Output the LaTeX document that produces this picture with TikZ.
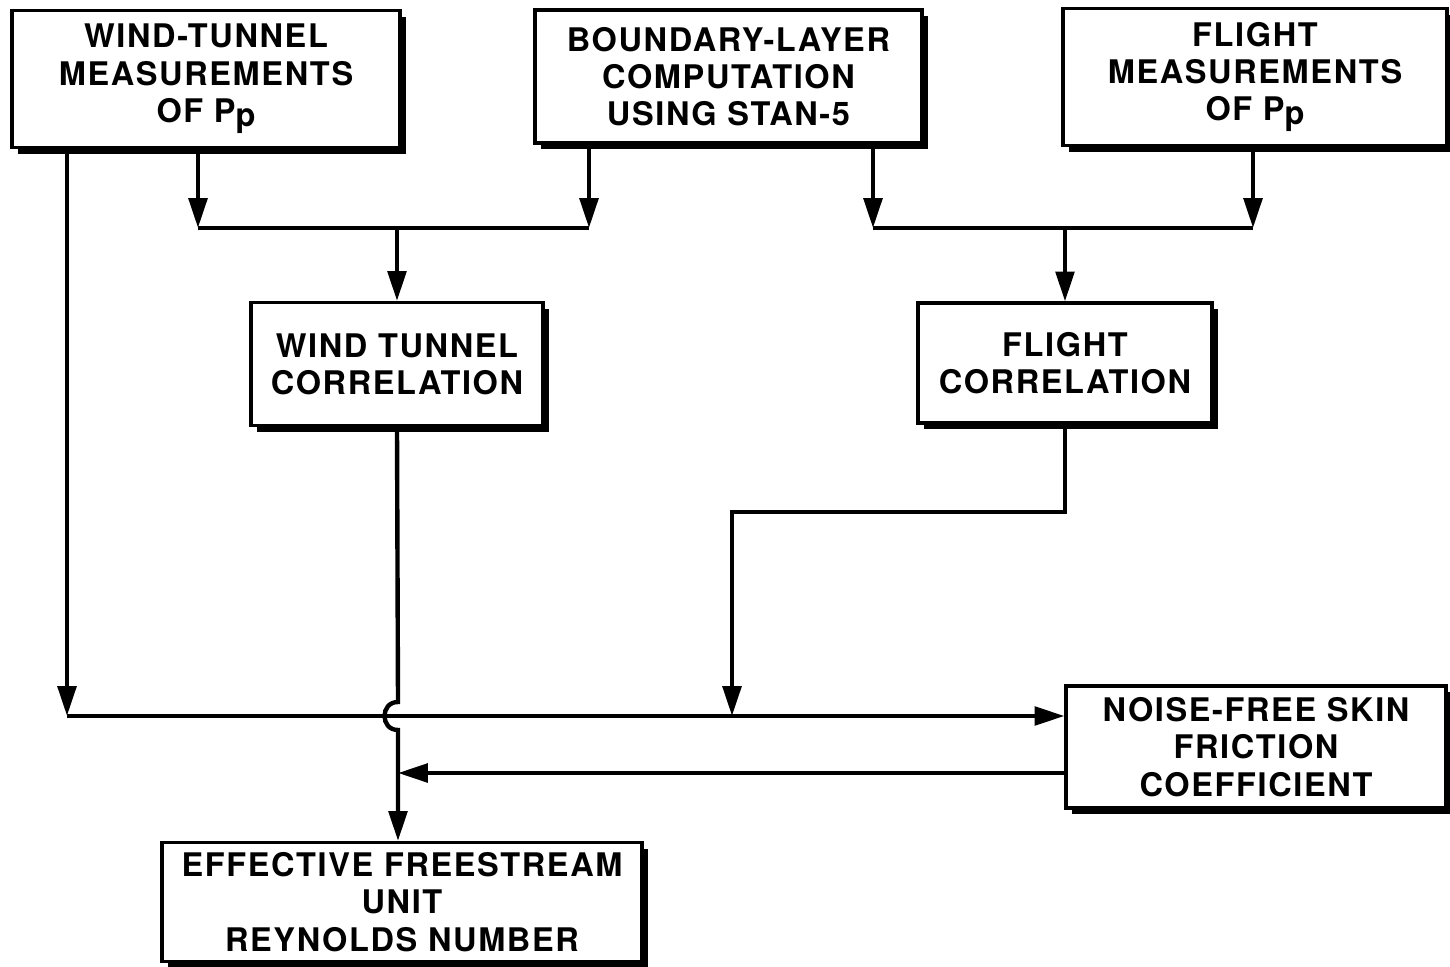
\documentclass[tikz,border=0pt]{standalone}
\usepackage{fontspec}
\newfontfamily\boxfont{TeX Gyre Heros}[LetterSpace=5]
\usetikzlibrary{positioning,arrows.meta,calc,shadows}
\tikzset{
  stepbox/.style={draw=black, fill=white, line width=1.8pt, align=center,
                  inner sep=0pt, font=\boxfont\bfseries\fontsize{18.5}{21.2}\selectfont,
                  drop shadow={shadow xshift=3.6pt, shadow yshift=-3.6pt,
                               fill=black, opacity=1}},
  link/.style={line width=2.5pt, draw=black},
  flow/.style={link, -{Triangle[length=17pt, width=10.5pt]}},
}

\begin{document}
\begin{tikzpicture}
\useasboundingbox (0,0) rectangle (29,-19.34);

% ========== INPUT BOXES ==========
\node[stepbox, minimum width=7.76cm, minimum height=2.74cm] (wtm) at (4.12,-1.58)
  {WIND-TUNNEL\\MEASUREMENTS\\OF P\raisebox{-0.25ex}{p}};
\node[stepbox, minimum width=7.74cm, minimum height=2.66cm] (blc) at (14.57,-1.53)
  {BOUNDARY-LAYER\\COMPUTATION\\USING STAN-5};
\node[stepbox, minimum width=7.68cm, minimum height=2.74cm] (flm) at (25.1,-1.54)
  {FLIGHT\\MEASUREMENTS\\OF P\raisebox{-0.25ex}{p}};

% ========== CORRELATIONS ==========
\node[stepbox, minimum width=5.84cm, minimum height=2.46cm] (wtc) at (7.94,-7.28)
  {WIND TUNNEL\\CORRELATION};
\node[stepbox, minimum width=5.88cm, minimum height=2.40cm] (flc) at (21.3,-7.26)
  {FLIGHT\\CORRELATION};

% ========== RESULTS ==========
\node[stepbox, minimum width=7.6cm, minimum height=2.44cm] (nfs) at (25.12,-14.94)
  {NOISE-FREE SKIN\\FRICTION\\COEFFICIENT};
\node[stepbox, minimum width=9.6cm, minimum height=2.38cm] (efr) at (8.04,-18.04)
  {EFFECTIVE FREESTREAM\\UNIT\\REYNOLDS NUMBER};

% junctions
\coordinate (m1) at (3.96,-4.56);
\coordinate (m2) at (11.78,-4.56);
\coordinate (m3) at (17.46,-4.56);
\coordinate (m4) at (25.06,-4.56);
\coordinate (jL) at (1.34,-14.32);
\coordinate (fk) at (14.64,-10.24);
\coordinate (fb) at (14.64,-14.32);
\coordinate (ret) at (7.96,-15.46);
\coordinate (hop) at (7.96,-14.32);

% ========== CONNECTORS ==========
\draw[flow] (wtm.south -| m1) -- (m1);
\draw[flow] (blc.south -| m2) -- (m2);
\draw[link] (m1) -- (m2);
\draw[flow] (wtc.north |- m1) -- (wtc.north);

\draw[flow] (blc.south -| m3) -- (m3);
\draw[flow] (flm.south -| m4) -- (m4);
\draw[link] (m3) -- (m4);
\draw[flow] (flc.north |- m3) -- (flc.north);

\draw[flow] (wtm.south -| jL) -- (jL);
\draw[flow] (jL) -- (jL -| nfs.west);
\draw[flow] (flc.south) |- (fk) -- (fb);

\draw[flow] (wtc.south) -- ($(hop)+(0,0.28)$)
  .. controls ($(hop)+(-0.36,0.28)$) and ($(hop)+(-0.36,-0.28)$) .. ($(hop)+(0,-0.28)$)
  -- (efr.north -| hop);
\draw[flow] (nfs.west |- ret) -- (ret);

\end{tikzpicture}
\end{document}
